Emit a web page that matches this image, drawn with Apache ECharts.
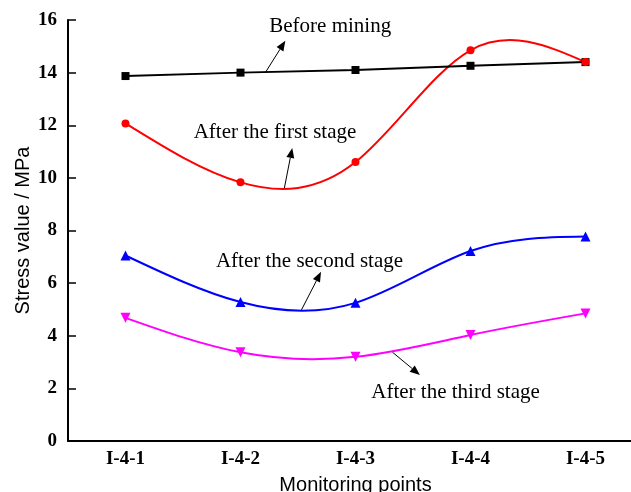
<!DOCTYPE html>
<html>
<head>
<meta charset="utf-8">
<script src="https://cdn.jsdelivr.net/npm/echarts@6/dist/echarts.min.js"></script>
<style>
html,body{margin:0;padding:0;background:#fff;}
#chart{width:631px;height:492px;}
</style>
</head>
<body>
<div id="chart"></div>
<script>
var categories = ['I-4-1','I-4-2','I-4-3','I-4-4','I-4-5'];
var beforeMining = [13.87, 14.0, 14.1, 14.26, 14.4];
var firstStage = [12.07, 9.83, 10.6, 14.85, 14.4];
var secondStage = [7.05, 5.28, 5.25, 7.22, 7.77];
var thirdStage = [4.68, 3.37, 3.2, 4.03, 4.85];
var yTicks = {min: 0, max: 16, interval: 2};

// annotation anchors in data space: [category index, value]
var annotations = [
  {text: 'Before mining', at: [1.78, 15.74], from: [1.22, 14.03], to: [1.39, 15.21]},
  {text: 'After the first stage', at: [1.30, 11.71], from: [1.38, 9.58], to: [1.45, 11.14]},
  {text: 'After the second stage', at: [1.60, 6.84], from: [1.53, 4.98], to: [1.70, 6.43]},
  {text: 'After the third stage', at: [2.87, 1.86], from: [2.32, 3.38], to: [2.56, 2.51]}
];

var chart = echarts.init(document.getElementById('chart'));
var serif = 'Liberation Serif, Times New Roman, serif';
var sans = 'Liberation Sans, Arial, sans-serif';

// Natural cubic spline second derivatives (unit spacing) – used only to shape the drawn curve
function splineM(y) {
  var n = y.length, M = new Array(n).fill(0);
  if (n < 3) return M;
  var a = [], b = [], c = [], d = [];
  for (var i = 1; i < n - 1; i++) {
    a.push(1); b.push(4); c.push(1);
    d.push(6 * (y[i + 1] - 2 * y[i] + y[i - 1]));
  }
  var m = d.length;
  for (var k = 1; k < m; k++) {
    var w = a[k] / b[k - 1];
    b[k] -= w * c[k - 1];
    d[k] -= w * d[k - 1];
  }
  var x = new Array(m);
  x[m - 1] = d[m - 1] / b[m - 1];
  for (var k2 = m - 2; k2 >= 0; k2--) x[k2] = (d[k2] - c[k2] * x[k2 + 1]) / b[k2];
  for (var j = 0; j < m; j++) M[j + 1] = x[j];
  return M;
}

function splineSeries(name, values, color) {
  var M = splineM(values);
  return {
    name: name + ' curve', type: 'custom', z: 2,
    data: values.map(function (v, i) { return [i, v]; }),
    encode: {x: 0, y: 1},
    clip: false,
    renderItem: function (params, api) {
      var i = params.dataIndex;
      if (i >= values.length - 1) return null;
      var y0 = values[i], y1 = values[i + 1];
      var s0 = (y1 - y0) - (2 * M[i] + M[i + 1]) / 6;
      var s1 = (y1 - y0) + (M[i] + 2 * M[i + 1]) / 6;
      var p0 = api.coord([i, y0]);
      var p3 = api.coord([i + 1, y1]);
      var dx = p3[0] - p0[0];
      var c1y = api.coord([i, y0 + s0 / 3])[1];
      var c2y = api.coord([i, y1 - s1 / 3])[1];
      return {
        type: 'bezierCurve',
        shape: {
          x1: p0[0], y1: p0[1], x2: p3[0], y2: p3[1],
          cpx1: p0[0] + dx / 3, cpy1: c1y,
          cpx2: p3[0] - dx / 3, cpy2: c2y
        },
        style: {stroke: color, lineWidth: 2, fill: null}
      };
    },
    animation: false,
    silent: true
  };
}

function markerSeries(name, data, color, symbol, size, rotate, showLine) {
  return {
    name: name, type: 'line', data: data, z: 3,
    symbol: symbol, symbolSize: size, symbolRotate: rotate || 0,
    lineStyle: {color: color, width: showLine ? 2 : 0, opacity: showLine ? 1 : 0},
    itemStyle: {color: color},
    animation: false
  };
}

chart.setOption({
  animation: false,
  grid: {left: 68, top: 20, width: 575, height: 421, containLabel: false, outerBoundsMode: 'none'},
  xAxis: {
    type: 'category', data: categories, boundaryGap: true,
    name: 'Monitoring points', nameLocation: 'middle', nameGap: 34,
    nameTextStyle: {fontFamily: sans, fontSize: 20, color: '#000'},
    axisLine: {lineStyle: {color: '#000', width: 2}},
    axisTick: {alignWithLabel: true, inside: true, length: 8, lineStyle: {color: '#000', width: 1.5}},
    axisLabel: {fontFamily: serif, fontWeight: 'bold', fontSize: 19, color: '#000', margin: 9}
  },
  yAxis: {
    type: 'value', min: yTicks.min, max: yTicks.max, interval: yTicks.interval,
    name: 'Stress value / MPa', nameLocation: 'middle', nameGap: 35, nameRotate: 90,
    nameMoveOverlap: false,
    nameTextStyle: {fontFamily: sans, fontSize: 20, color: '#000'},
    axisLine: {show: true, lineStyle: {color: '#000', width: 2}},
    axisTick: {show: true, inside: true, length: 8, lineStyle: {color: '#000', width: 1.5}},
    splitLine: {show: false},
    axisLabel: {fontFamily: serif, fontWeight: 'bold', fontSize: 19, color: '#000', margin: 11}
  },
  series: [
    markerSeries('Before mining', beforeMining, '#000000', 'rect', 8, 0, true),
    splineSeries('After the first stage', firstStage, '#ff0000'),
    markerSeries('After the first stage', firstStage, '#ff0000', 'circle', 8, 0, false),
    splineSeries('After the second stage', secondStage, '#0000ff'),
    markerSeries('After the second stage', secondStage, '#0000ff', 'triangle', 10, 0, false),
    splineSeries('After the third stage', thirdStage, '#ff00ff'),
    markerSeries('After the third stage', thirdStage, '#ff00ff', 'triangle', 10, 180, false)
  ]
});

function toPx(pt) {
  var x0 = chart.convertToPixel({xAxisIndex: 0}, 0);
  var x1 = chart.convertToPixel({xAxisIndex: 0}, 1);
  var y = chart.convertToPixel({yAxisIndex: 0}, pt[1]);
  return [x0 + (x1 - x0) * pt[0], y];
}

var graphics = [];
annotations.forEach(function (a) {
  var p = toPx(a.at), f = toPx(a.from), t = toPx(a.to);
  graphics.push({
    type: 'text', x: p[0], y: p[1],
    style: {text: a.text, font: '21px ' + serif, fill: '#000', align: 'center', verticalAlign: 'middle'}
  });
  var dx = t[0] - f[0], dy = t[1] - f[1];
  var len = Math.sqrt(dx * dx + dy * dy);
  var ux = dx / len, uy = dy / len;
  var hl = 10, hw = 4;
  var bx = t[0] - ux * hl, by = t[1] - uy * hl;
  graphics.push({
    type: 'line', shape: {x1: f[0], y1: f[1], x2: bx, y2: by},
    style: {stroke: '#000', lineWidth: 1}
  });
  graphics.push({
    type: 'polygon',
    shape: {points: [[t[0], t[1]], [bx - uy * hw, by + ux * hw], [bx + uy * hw, by - ux * hw]]},
    style: {fill: '#000'}
  });
});
chart.setOption({graphic: graphics});
</script>
</body>
</html>
